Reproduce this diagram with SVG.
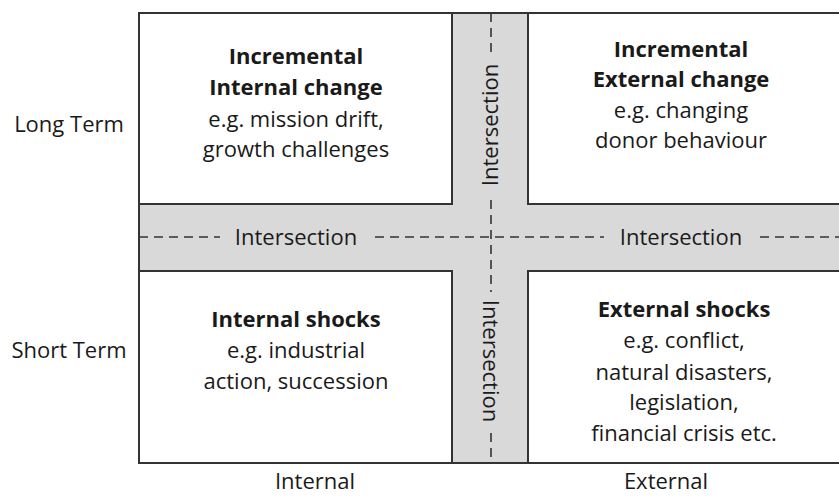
<svg xmlns="http://www.w3.org/2000/svg" width="839" height="496" viewBox="0 0 839 496">
<style>
.box{fill:#fff;stroke:#333;stroke-width:2}
.band{fill:#d9d9d9;stroke:#333;stroke-width:2}
.dash{stroke:#333;stroke-width:1.6;stroke-dasharray:9 6;fill:none}
text{font-family:"Open Sans","Liberation Sans",sans-serif;font-size:22px;fill:#1a1a1a;text-anchor:middle}
.b{font-weight:bold}
</style>
<rect width="839" height="496" fill="#fff"/>
<g id="bands">
<rect class="band" x="139" y="13" width="710" height="450"/>
</g>
<g id="connectors">
<line class="dash" x1="139" y1="237" x2="220" y2="237"/>
<line class="dash" x1="375" y1="237" x2="604" y2="237"/>
<line class="dash" x1="760" y1="237" x2="839" y2="237"/>
<line class="dash" x1="491" y1="13" x2="491" y2="52"/>
<line class="dash" x1="491" y1="200" x2="491" y2="292"/>
<line class="dash" x1="491" y1="433" x2="491" y2="463"/>
</g>
<g id="internal-change">
<rect class="box" x="139" y="13" width="313" height="191"/>
<text x="296" y="64" class="b">Incremental</text>
<text x="296" y="95" class="b">Internal change</text>
<text x="296" y="127">e.g. mission drift,</text>
<text x="296" y="157">growth challenges</text>
</g>
<g id="external-change">
<rect class="box" x="528" y="13" width="321" height="191"/>
<text x="681" y="57" class="b">Incremental</text>
<text x="681" y="87" class="b">External change</text>
<text x="681" y="118">e.g. changing</text>
<text x="681" y="148">donor behaviour</text>
</g>
<g id="internal-shocks">
<rect class="box" x="139" y="271" width="313" height="192"/>
<text x="296" y="327" class="b">Internal shocks</text>
<text x="296" y="358">e.g. industrial</text>
<text x="296" y="389">action, succession</text>
</g>
<g id="external-shocks">
<rect class="box" x="528" y="271" width="321" height="192"/>
<text x="684" y="317" class="b">External shocks</text>
<text x="684" y="348">e.g. conflict,</text>
<text x="684" y="380">natural disasters,</text>
<text x="684" y="410">legislation,</text>
<text x="684" y="441">financial crisis etc.</text>
</g>
<g id="intersection-labels">
<text x="296" y="245">Intersection</text>
<text x="681" y="245">Intersection</text>
<text transform="translate(498 125) rotate(-90)">Intersection</text>
<text transform="translate(483 361) rotate(90)">Intersection</text>
</g>
<g id="axis-labels">
<text x="69" y="132">Long Term</text>
<text x="69" y="358">Short Term</text>
<text x="315" y="489">Internal</text>
<text x="666" y="489">External</text>
</g>
</svg>
